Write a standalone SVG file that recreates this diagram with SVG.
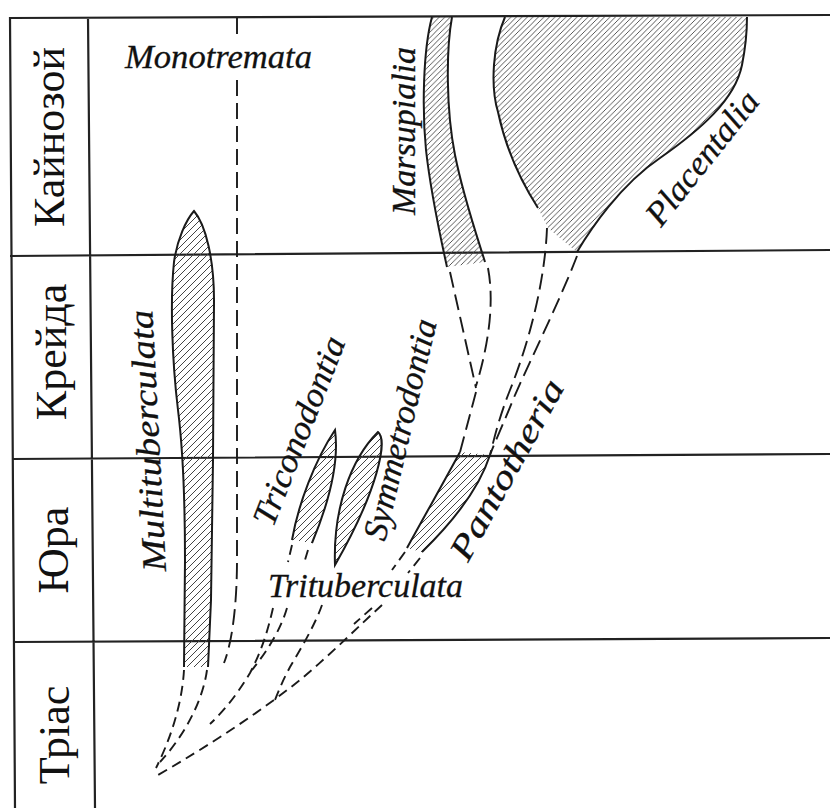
<svg xmlns="http://www.w3.org/2000/svg" width="830" height="808" viewBox="0 0 830 808">
<defs>
<pattern id="hatch" patternUnits="userSpaceOnUse" width="7" height="7">
<path d="M-1,1 L1,-1 M0,7 L7,0 M6,8 L8,6" stroke="#444" stroke-width="1"/>
</pattern>
<pattern id="hatch2" patternUnits="userSpaceOnUse" width="5.5" height="5.5">
<path d="M-1,1 L1,-1 M0,5.5 L5.5,0 M4.5,6.5 L6.5,4.5" stroke="#444" stroke-width="0.9"/>
</pattern>
</defs>
<style>
.frame{stroke:#222;stroke-width:2.2;fill:none}
.era{font-family:"Liberation Serif","DejaVu Serif",serif;font-size:44px;fill:#111}
.lbl{font-family:"Liberation Serif","DejaVu Serif",serif;font-style:italic;font-size:34px;fill:#111;stroke:#111;stroke-width:0.3}
.hf{fill:url(#hatch);stroke:none}
.hf2{fill:url(#hatch2);stroke:none}
.ol{fill:none;stroke:#1a1a1a;stroke-width:2}
.dash{fill:none;stroke:#1a1a1a;stroke-width:1.9;stroke-dasharray:16 7}
.dsh{fill:none;stroke:#1a1a1a;stroke-width:1.9;stroke-dasharray:10 6}
</style>
<rect width="830" height="808" fill="#fff"/>
<g id="frame">
<path class="frame" d="M10,18 L830,15 M10,256 L830,250 M12,459 L830,454 M14,642 L830,638 M10,17 L15,808 M88,17 L95,808"/>
</g>
<g id="eras">
<text class="era" transform="translate(64,137) rotate(-90)" text-anchor="middle">Кайнозой</text>
<text class="era" transform="translate(66,352) rotate(-90)" text-anchor="middle">Крейда</text>
<text class="era" transform="translate(68,550) rotate(-90)" text-anchor="middle">Юра</text>
<text class="era" transform="translate(69,735) rotate(-90)" text-anchor="middle">Тріас</text>
</g>
<g id="monotremata">
<text class="lbl" x="125" y="68" textLength="187" lengthAdjust="spacingAndGlyphs">Monotremata</text>
</g>
<g id="multituberculata">
<path class="hf" d="M194,211 C186,220 177,240 174,262 C170,300 172,360 178,410 C183,450 185,500 185,560 L184,667 L208,667 L211,600 L213,460 L214,300 C214,260 206,225 194,211 Z"/>
<path class="ol" d="M184,667 L185,560 C185,500 183,450 178,410 C172,360 170,300 174,262 C177,240 186,220 194,211 C206,225 214,260 214,300 L213,460 L211,600 L208,667"/>
<text class="lbl" transform="translate(166,571) rotate(-93)" textLength="262" lengthAdjust="spacingAndGlyphs">Multituberculata</text>
</g>
<g id="marsupialia">
<path class="hf2" d="M432,17 C423,50 422,110 426,150 C431,195 440,235 447,267 L485,262 C475,230 463,195 455,155 C446,110 446,50 452,17 Z"/>
<path class="ol" d="M432,17 C423,50 422,110 426,150 C431,195 440,235 447,267 M452,17 C446,50 446,110 455,155 C463,195 475,230 485,262"/>
<text class="lbl" transform="translate(415,215) rotate(-90)" textLength="168" lengthAdjust="spacingAndGlyphs">Marsupialia</text>
</g>
<g id="placentalia">
<path class="hf2" d="M505,17 C493,45 490,85 498,112 C505,145 520,180 538,208 L548,228 L566,243 L577,252 C590,230 620,185 660,158 C700,130 735,100 742,65 C746,45 747,28 747,17 Z"/>
<path class="ol" d="M505,17 C493,45 490,85 498,112 C505,145 520,180 538,208 M577,252 C590,230 620,185 660,158 C700,130 735,100 742,65 C746,45 747,28 747,17"/>
<text class="lbl" transform="translate(661,228) rotate(-51.6)" textLength="161" lengthAdjust="spacingAndGlyphs">Placentalia</text>
</g>
<g id="triconodontia">
<path class="hf" d="M292,540 C298,505 315,460 335,430 C339,460 330,500 312,543 Z"/>
<path class="ol" d="M292,540 C298,505 315,460 335,430 C339,460 330,500 312,543"/>
<text class="lbl" transform="translate(273,528) rotate(-68.6)" textLength="200" lengthAdjust="spacingAndGlyphs">Triconodontia</text>
</g>
<g id="symmetrodontia">
<path class="hf" d="M335,565 C333,510 350,460 378,432 C388,440 378,490 335,565 Z"/>
<path class="ol" d="M335,565 C333,510 350,460 378,432 C388,440 378,490 335,565 Z"/>
<text class="lbl" transform="translate(385,542) rotate(-76.7)" textLength="226" lengthAdjust="spacingAndGlyphs">Symmetrodontia</text>
</g>
<g id="pantotheria">
<path class="hf" d="M460,452 C445,480 425,515 407,548 L422,552 C465,510 482,480 490,455 Z"/>
<path class="ol" d="M460,452 C445,480 425,515 407,548 M490,455 C482,480 465,510 422,552"/>
<text class="lbl" transform="translate(468,563) rotate(-61.1)" textLength="201" lengthAdjust="spacingAndGlyphs">Pantotheria</text>
</g>
<g id="trituberculata">
<text class="lbl" x="268" y="597" textLength="195" lengthAdjust="spacingAndGlyphs">Trituberculata</text>
</g>
<g id="connectors">
<path class="dash" d="M237,18 V40 M237,80 V560 C237,600 233,640 224,663"/>
<path class="dsh" d="M184,670 C182,705 170,740 156,768"/>
<path class="dsh" d="M207,670 C203,700 185,735 160,762"/>
<path class="dsh" d="M292,545 L288,562 M273,608 C268,630 262,650 250,673 C238,693 225,710 210,724"/>
<path class="dsh" d="M308,550 L305,560 M287,608 C282,625 272,645 252,670"/>
<path class="dsh" d="M322,605 C315,625 300,650 290,667 C283,680 278,692 273,705"/>
<path class="dsh" d="M405,552 L392,570 M382,605 C360,625 330,655 300,680 C260,712 210,745 153,778"/>
<path class="dsh" d="M420,558 L408,573 M372,608 L354,624"/>
<path class="dash" d="M450,272 L476,388"/>
<path class="dash" d="M488,268 C494,300 490,340 476,386"/>
<path class="dash" d="M476,392 L460,452"/>
<path class="dash" d="M547,228 C545,280 530,340 510,390 C500,415 495,435 490,455"/>
<path class="dash" d="M577,256 C560,300 535,350 515,395 C505,420 497,437 490,455"/>
</g>
</svg>
